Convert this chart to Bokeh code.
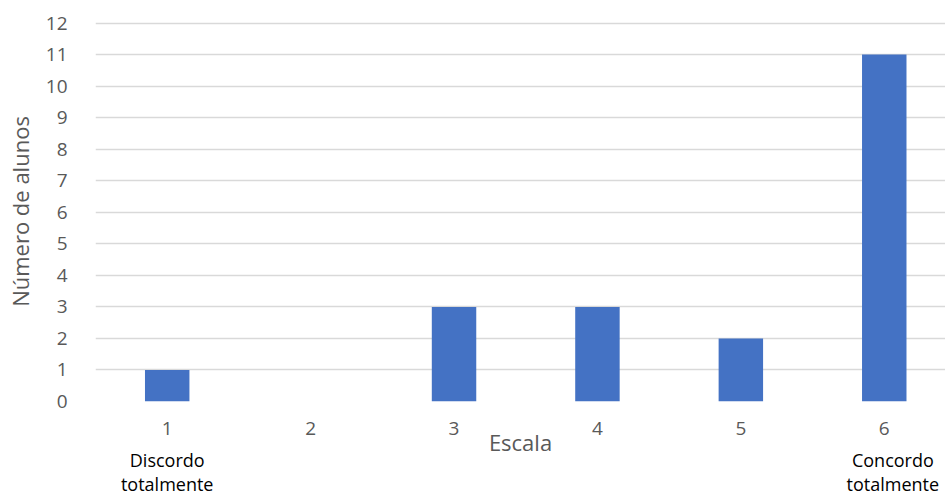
from bokeh.plotting import figure
from bokeh.models import Range1d, FixedTicker, ColumnDataSource, LinearAxis
from bokeh.embed import file_html
from bokeh.resources import INLINE

categories = [1, 2, 3, 4, 5, 6]
values = [1, 0, 3, 3, 2, 11]
y_ticks = list(range(0, 13))
x_title = "Escala"
y_title = "Número de alunos"
note_positions = [1, 6.06]
note_texts = ["Discordo\ntotalmente", "Concordo\ntotalmente"]

FONT = "Open Sans"
GREY = "#595959"

p = figure(width=945, height=498, output_backend="svg", toolbar_location=None,
           x_range=Range1d(0.5, 6.427), y_range=Range1d(0, 12.05),
           min_border_left=95, min_border_right=0, min_border_top=21, min_border_bottom=97)
p.outline_line_color = None
p.background_fill_color = "white"

src = ColumnDataSource(dict(x=categories, top=values))
p.vbar(x="x", top="top", width=0.31, source=src, fill_color="#4472c4", line_color=None)

p.xgrid.grid_line_color = None
p.ygrid.grid_line_color = "#d9d9d9"
p.ygrid.grid_line_width = 1.5
p.ygrid.level = "underlay"

p.yaxis.ticker = FixedTicker(ticks=y_ticks)
p.xaxis.ticker = FixedTicker(ticks=categories)

def clean(ax):
    ax.axis_line_color = None
    ax.major_tick_line_color = None
    ax.minor_tick_line_color = None
    ax.major_label_text_font = FONT
    ax.major_label_text_font_size = "19px"
    ax.major_label_text_color = GREY

for ax in (p.xaxis[0], p.yaxis[0]):
    clean(ax)
p.xaxis.major_label_standoff = 14
p.xaxis.axis_label = x_title
p.xaxis.axis_label_text_font = FONT
p.xaxis.axis_label_text_font_size = "22px"
p.xaxis.axis_label_text_font_style = "normal"
p.xaxis.axis_label_text_color = GREY
p.xaxis.axis_label_standoff = -11

p.yaxis.major_label_standoff = 22
p.yaxis.axis_label = y_title
p.yaxis.axis_label_text_font = FONT
p.yaxis.axis_label_text_font_size = "22px"
p.yaxis.axis_label_text_font_style = "normal"
p.yaxis.axis_label_text_color = GREY
p.yaxis.axis_label_standoff = 8

notes = LinearAxis(ticker=FixedTicker(ticks=note_positions),
                   major_label_overrides={k: v for k, v in zip(note_positions, note_texts)})
clean(notes)
notes.major_label_text_font_size = "18px"
notes.major_label_text_color = "black"
notes.major_label_standoff = -18
notes.major_label_text_line_height = 1.0
p.add_layout(notes, "below")

open("out.html", "w").write(file_html(p, INLINE))
